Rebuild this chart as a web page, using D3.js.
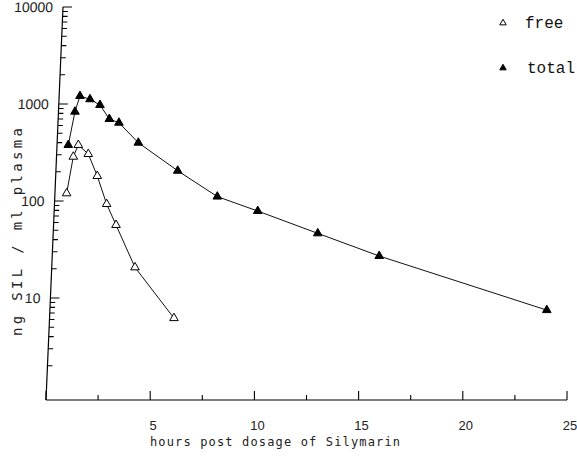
<!DOCTYPE html>
<html><head><meta charset="utf-8">
<script src="https://cdn.jsdelivr.net/npm/d3@7"></script>
<style>body{margin:0;background:#fff}svg{display:block}</style>
</head><body>
<script>
// Data
const freeHours  = [0.99, 1.31, 1.55, 2.03, 2.46, 2.91, 3.36, 4.27, 6.14];
const freeValues = [120, 286, 378, 305, 181, 93, 56.6, 20.7, 6.2];
const totalHours  = [1.07, 1.39, 1.63, 2.11, 2.59, 3.04, 3.5, 4.43, 6.32, 8.22, 10.16, 13.04, 15.99, 24.03];
const totalValues = [378, 833, 1208, 1119, 977, 700, 641, 399, 205, 111, 78.8, 46.4, 27.1, 7.5];
const xTicks = [5, 10, 15, 20, 25];
const xMinorTicks = [2.5, 7.5, 12.5, 17.5, 22.5];
const yTicks = [10, 100, 1000, 10000];
const yTickLabels = ["10", "100", "1000", "10000"];
const legendLabels = ["free", "total"];

const W = 577, H = 456;
const x0 = 46, yBase = 400;
const x = d3.scaleLinear().domain([0, 25]).range([x0, 567]);
const y = d3.scaleLog().domain([1, 10000]).range([395, 7]);

const svg = d3.select("body").append("svg").attr("width", W).attr("height", H);

// X axis
const gx = svg.append("g");
gx.append("line").attr("x1", x0).attr("x2", x(25)).attr("y1", yBase).attr("y2", yBase)
  .attr("stroke", "#000").attr("stroke-width", 1.2);
gx.selectAll("line.maj").data([0].concat(xTicks)).join("line").attr("class", "maj")
  .attr("x1", d => x(d)).attr("x2", d => x(d)).attr("y1", yBase).attr("y2", yBase - 9)
  .attr("stroke", "#000").attr("stroke-width", 1.1);
gx.selectAll("line.min").data(xMinorTicks).join("line").attr("class", "min")
  .attr("x1", d => x(d)).attr("x2", d => x(d)).attr("y1", yBase).attr("y2", yBase - 5)
  .attr("stroke", "#000").attr("stroke-width", 1.1);
gx.selectAll("text").data(xTicks).join("text")
  .attr("x", d => x(d) + 3).attr("y", 430).attr("text-anchor", "middle")
  .attr("font-family", "Liberation Sans, Arial, sans-serif").attr("font-size", 13)
  .attr("fill", "#222").text(d => d);

// Y axis (slightly slanted like the scan)
const slope = 17 / 393;
const ang = -Math.atan(slope) * 180 / Math.PI;
const gy = svg.append("g")
  .attr("transform", `translate(${x0},${yBase}) skewX(${ang}) translate(${-x0},${-yBase})`);
gy.append("line").attr("x1", x0).attr("x2", x0).attr("y1", yBase).attr("y2", y(10000))
  .attr("stroke", "#000").attr("stroke-width", 1.2);
const minor = [];
[1, 10, 100, 1000].forEach(dec => { for (let k = 2; k <= 9; k++) minor.push(dec * k); });
gy.selectAll("line.ymin").data(minor).join("line").attr("class", "ymin")
  .attr("x1", x0).attr("x2", x0 + 5).attr("y1", d => y(d)).attr("y2", d => y(d))
  .attr("stroke", "#000").attr("stroke-width", 1.1);
gy.selectAll("line.ymaj").data(yTicks).join("line").attr("class", "ymaj")
  .attr("x1", x0).attr("x2", x0 + 9).attr("y1", d => y(d)).attr("y2", d => y(d))
  .attr("stroke", "#000").attr("stroke-width", 1.1);
gy.selectAll("text").data(yTicks).join("text")
  .attr("x", x0 - 10).attr("y", d => y(d) + 5).attr("text-anchor", "end")
  .attr("font-family", "Liberation Sans, Arial, sans-serif").attr("font-size", 14)
  .attr("fill", "#222").text((d, i) => yTickLabels[i]);

// Axis titles
svg.append("text").attr("x", 150).attr("y", 446)
  .attr("font-family", "DejaVu Sans Mono, monospace").attr("font-size", 12)
  .attr("textLength", 250).attr("lengthAdjust", "spacing")
  .attr("fill", "#222").text("hours post dosage of Silymarin");
svg.append("text").attr("transform", "translate(22,336) rotate(-90)")
  .attr("font-family", "DejaVu Sans Mono, monospace").attr("font-size", 14)
  .attr("textLength", 208).attr("lengthAdjust", "spacing")
  .attr("fill", "#222").text("ng SIL / ml plasma");

// Series
const line = d3.line().x(d => x(d[0])).y(d => y(d[1]));
const freePts = freeHours.map((h, i) => [h, freeValues[i]]);
const totalPts = totalHours.map((h, i) => [h, totalValues[i]]);
const tri = d3.symbol().type(d3.symbolTriangle).size(32);

[[totalPts, "#000"], [freePts, "#fff"]].forEach(([pts, fill]) => {
  svg.append("path").attr("d", line(pts)).attr("fill", "none")
    .attr("stroke", "#111").attr("stroke-width", 1);
  svg.append("g").selectAll("path").data(pts).join("path")
    .attr("d", tri).attr("transform", d => `translate(${x(d[0])},${y(d[1])})`)
    .attr("fill", fill).attr("stroke", "#000").attr("stroke-width", 1);
});

// Legend
const legY = [23, 68];
const lg = svg.append("g");
lg.selectAll("path").data(legendLabels).join("path")
  .attr("d", d3.symbol().type(d3.symbolTriangle).size(18))
  .attr("transform", (d, i) => `translate(503,${legY[i]})`)
  .attr("fill", (d, i) => i === 0 ? "#fff" : "#000").attr("stroke", "#000").attr("stroke-width", 1);
lg.selectAll("text").data(legendLabels).join("text")
  .attr("x", (d, i) => i === 0 ? 525 : 527).attr("y", (d, i) => legY[i] + 5)
  .attr("font-family", "Liberation Mono, Courier New, monospace").attr("font-size", 16)
  .attr("fill", "#111").text(d => d);
</script>
</body></html>
